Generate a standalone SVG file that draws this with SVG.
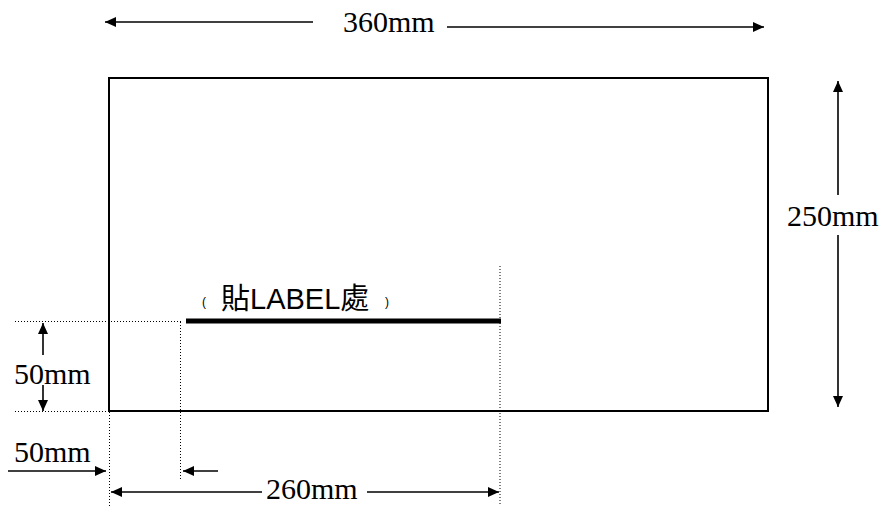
<svg xmlns="http://www.w3.org/2000/svg" width="885" height="506" viewBox="0 0 885 506">
<style>
.dim{stroke:#000;stroke-width:1.6;fill:none}
.dot{stroke:#000;stroke-width:1;stroke-dasharray:1 2;fill:none}
.t{font-family:"Liberation Serif","Times New Roman",serif;font-size:30px;fill:#000}
.lbl{font-family:"Liberation Sans","Noto Sans CJK TC",sans-serif;fill:#000}
</style>
<defs>
<marker id="ah" markerUnits="userSpaceOnUse" markerWidth="12" markerHeight="10" refX="11" refY="5" orient="auto">
<path d="M0,0 L11,5 L0,10 Z" fill="#000"/>
</marker>
</defs>
<rect width="885" height="506" fill="#fff"/>
<g id="board">
<rect x="109" y="78" width="659" height="333" fill="none" stroke="#000" stroke-width="2"/>
</g>
<g id="label-area">
<line x1="186" y1="321" x2="501" y2="321" stroke="#000" stroke-width="5"/>
<text class="lbl" y="309"><tspan x="202" y="306" font-size="12">(</tspan><tspan x="221" y="309" font-size="29">貼LABEL處</tspan><tspan x="385" y="306" font-size="12">)</tspan></text>
</g>
<g id="connectors">
<line class="dot" x1="500" y1="266" x2="500" y2="506"/>
<line class="dot" x1="15" y1="321.5" x2="181" y2="321.5"/>
<line class="dot" x1="180.5" y1="322" x2="180.5" y2="481"/>
<line class="dot" x1="15" y1="411.5" x2="109" y2="411.5"/>
<line class="dot" x1="109.5" y1="412" x2="109.5" y2="506"/>
<line class="dim" x1="313" y1="22" x2="105" y2="22" marker-end="url(#ah)"/>
<line class="dim" x1="447" y1="27" x2="764" y2="27" marker-end="url(#ah)"/>
<line class="dim" x1="838" y1="195" x2="838" y2="81" marker-end="url(#ah)"/>
<line class="dim" x1="838" y1="235" x2="838" y2="407" marker-end="url(#ah)"/>
<line class="dim" x1="43" y1="355" x2="43" y2="323" marker-end="url(#ah)"/>
<line class="dim" x1="43" y1="385" x2="43" y2="411" marker-end="url(#ah)"/>
<line class="dim" x1="8" y1="471" x2="106" y2="471" marker-end="url(#ah)"/>
<line class="dim" x1="218" y1="471" x2="183" y2="471" marker-end="url(#ah)"/>
<line class="dim" x1="262" y1="492" x2="111" y2="492" marker-end="url(#ah)"/>
<line class="dim" x1="367" y1="492" x2="499" y2="492" marker-end="url(#ah)"/>
</g>
<g id="dims">
<text class="t" x="343" y="32">360mm</text>
<text class="t" x="787" y="226">250mm</text>
<text class="t" x="14" y="384">50mm</text>
<text class="t" x="14" y="462">50mm</text>
<text class="t" x="266" y="499">260mm</text>
</g>
</svg>
